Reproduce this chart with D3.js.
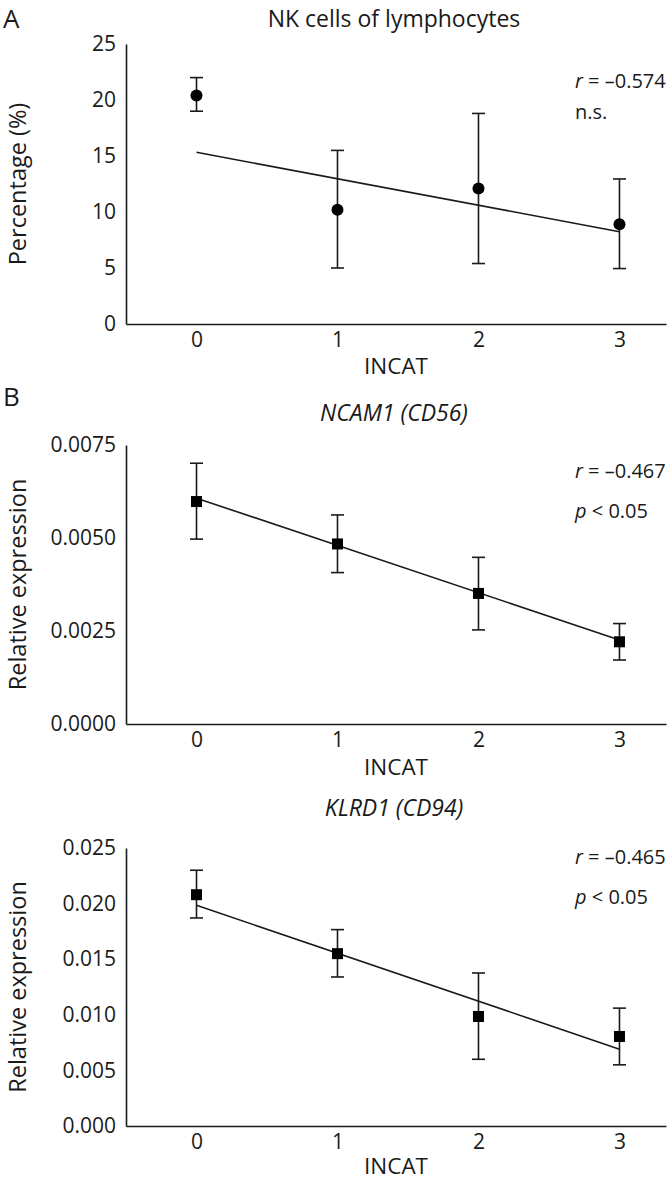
<!DOCTYPE html>
<html><head><meta charset="utf-8">
<script src="https://cdn.jsdelivr.net/npm/d3@7"></script>
<style>body{margin:0;background:#fff}svg{display:block;font-family:"Open Sans",sans-serif}</style>
</head><body>
<script>
const categories = [0, 1, 2, 3];

const nkMean = [20.4, 10.2, 12.1, 8.9];
const nkUpper = [22.0, 15.5, 18.8, 12.95];
const nkLower = [19.0, 5.0, 5.4, 4.95];
const nkFit = [15.33, 8.24];
const nkTicks = [0, 5, 10, 15, 20, 25];

const ncamMean = [0.00598, 0.00484, 0.00351, 0.00221];
const ncamUpper = [0.00701, 0.00562, 0.00448, 0.00270];
const ncamLower = [0.00497, 0.00407, 0.00253, 0.00172];
const ncamFit = [0.00607, 0.00226];
const ncamTicks = [0, 0.0025, 0.005, 0.0075];

const klrdMean = [0.0208, 0.0155, 0.00985, 0.00805];
const klrdUpper = [0.0230, 0.01766, 0.01376, 0.0106];
const klrdLower = [0.01871, 0.0134, 0.0060, 0.0055];
const klrdFit = [0.01985, 0.00691];
const klrdTicks = [0, 0.005, 0.01, 0.015, 0.02, 0.025];

const W = 668, H = 1181;
const INK = "#1a1a1a";
const svg = d3.select("body").append("svg").attr("width", W).attr("height", H);

function panel(o) {
  const g = svg.append("g");
  const x = d3.scaleLinear().domain([-0.5, 3.33]).range([126, 666]);
  const y = d3.scaleLinear().domain([0, o.max]).range([o.y0, o.y1]);

  const xAxis = d3.axisBottom(x).tickValues(categories).tickSize(0).tickPadding(8).tickFormat(d3.format("d"));
  const xg = g.append("g").attr("transform", `translate(0,${o.y0})`).call(xAxis);
  const yAxis = d3.axisLeft(y).tickValues(o.ticks).tickSize(0).tickPadding(10).tickFormat(d3.format(o.fmt));
  const yg = g.append("g").attr("transform", `translate(126,0)`).call(yAxis);
  [xg, yg].forEach(a => {
    a.select(".domain").attr("stroke", INK).attr("stroke-width", 1.6);
    a.selectAll("text").attr("font-size", 21).attr("fill", INK).attr("font-family", "Open Sans");
  });

  g.append("text").attr("x", 396).attr("y", o.y0 + o.xlabGap).attr("text-anchor", "middle")
    .attr("font-size", 22.5).attr("fill", INK).text("INCAT");
  g.append("text").attr("transform", `translate(26,${(o.y0 + o.y1) / 2}) rotate(-90)`)
    .attr("text-anchor", "middle").attr("font-size", 23.5).attr("fill", INK).text(o.ylabel);
  g.append("text").attr("x", 394).attr("y", o.titleY).attr("text-anchor", "middle")
    .attr("font-size", 23).attr("fill", INK).attr("font-style", o.italic ? "italic" : "normal").text(o.title);

  // fit line
  g.append("line").attr("x1", x(0)).attr("x2", x(3)).attr("y1", y(o.fit[0])).attr("y2", y(o.fit[1]))
    .attr("stroke", INK).attr("stroke-width", 1.6);

  // error bars + markers
  categories.forEach((c, i) => {
    g.append("line").attr("x1", x(c)).attr("x2", x(c)).attr("y1", y(o.upper[i])).attr("y2", y(o.lower[i]))
      .attr("stroke", INK).attr("stroke-width", 1.6);
    [o.upper[i], o.lower[i]].forEach(v => {
      g.append("line").attr("x1", x(c) - 6.5).attr("x2", x(c) + 6.5).attr("y1", y(v)).attr("y2", y(v))
        .attr("stroke", INK).attr("stroke-width", 1.6);
    });
    if (o.shape === "circle") {
      g.append("circle").attr("cx", x(c)).attr("cy", y(o.mean[i])).attr("r", 6).attr("fill", "#000");
    } else {
      g.append("rect").attr("x", x(c) - 5.5).attr("y", y(o.mean[i]) - 5.5).attr("width", 11).attr("height", 11).attr("fill", "#000");
    }
  });

  // annotations
  const t1 = g.append("text").attr("x", 575).attr("y", o.annY).attr("font-size", 20).attr("fill", INK);
  t1.append("tspan").attr("font-style", "italic").text("r");
  t1.append("tspan").text(" = \u20130." + o.r);
  const t2 = g.append("text").attr("x", 575).attr("y", o.annY + o.gap).attr("font-size", 20).attr("fill", INK);
  if (o.p) {
    t2.append("tspan").attr("font-style", "italic").text("p");
    t2.append("tspan").text(" < 0.05");
  } else {
    t2.text("n.s.");
  }
}

panel({ max: 25, y0: 324, y1: 44, ticks: nkTicks, fmt: "d", mean: nkMean, upper: nkUpper, lower: nkLower, fit: nkFit,
  shape: "circle", title: "NK cells of lymphocytes", titleY: 27, ylabel: "Percentage (%)", r: "574", p: false, annY: 88, gap: 31, xlabGap: 50 });
panel({ max: 0.0075, y0: 724, y1: 445, ticks: ncamTicks, fmt: ".4f", mean: ncamMean, upper: ncamUpper, lower: ncamLower, fit: ncamFit,
  shape: "square", title: "NCAM1 (CD56)", italic: true, titleY: 421, ylabel: "Relative expression", r: "467", p: true, annY: 478, gap: 40, xlabGap: 51 });
panel({ max: 0.025, y0: 1126, y1: 848, ticks: klrdTicks, fmt: ".3f", mean: klrdMean, upper: klrdUpper, lower: klrdLower, fit: klrdFit,
  shape: "square", title: "KLRD1 (CD94)", italic: true, titleY: 816, ylabel: "Relative expression", r: "465", p: true, annY: 864, gap: 40, xlabGap: 48 });

svg.append("text").attr("x", 3).attr("y", 28).attr("font-size", 26).attr("fill", INK).text("A");
svg.append("text").attr("x", 3).attr("y", 406).attr("font-size", 26).attr("fill", INK).text("B");
</script>
</body></html>
